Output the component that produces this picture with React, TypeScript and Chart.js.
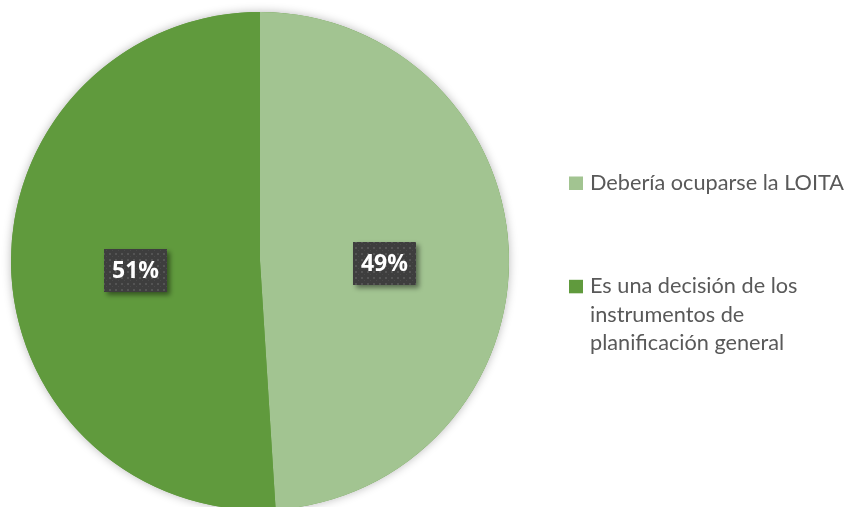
import { useEffect, useRef } from "react";
import { Chart, registerables } from "chart.js";

Chart.register(...registerables);

const categories: (string | string[])[] = [
  "Debería ocuparse la LOITA",
  ["Es una decisión de los", "instrumentos de", "planificación general"],
];
const values = [49, 51];
const sliceColors = ["#A2C491", "#609A3D"];

const W = 848;
const H = 507;
const CANVAS_H = 520;

function makePattern(ctx: CanvasRenderingContext2D): CanvasPattern | string {
  const c = document.createElement("canvas");
  c.width = 6;
  c.height = 6;
  const p = c.getContext("2d");
  if (!p) return "#404040";
  p.fillStyle = "#3E3E3E";
  p.fillRect(0, 0, 6, 6);
  p.fillStyle = "#545454";
  p.fillRect(1, 1, 2, 2);
  p.fillStyle = "#4A4A4A";
  p.fillRect(4, 4, 1, 1);
  return ctx.createPattern(c, "repeat") || "#404040";
}

const pieShadow = {
  id: "pieShadow",
  beforeDatasetsDraw(chart: any) {
    const meta = chart.getDatasetMeta(0);
    const arc = meta.data[0];
    if (!arc) return;
    const { x, y, outerRadius } = arc.getProps(["x", "y", "outerRadius"], true);
    const ctx = chart.ctx as CanvasRenderingContext2D;
    ctx.save();
    ctx.shadowColor = "rgba(0,0,0,0.28)";
    ctx.shadowBlur = 10;
    ctx.beginPath();
    ctx.arc(x, y, outerRadius, 0, Math.PI * 2);
    ctx.fillStyle = sliceColors[1];
    ctx.fill();
    ctx.restore();
  },
};

const boxLabels = {
  id: "boxLabels",
  afterDatasetsDraw(chart: any) {
    const ctx = chart.ctx as CanvasRenderingContext2D;
    const meta = chart.getDatasetMeta(0);
    const data = chart.data.datasets[0].data as number[];
    const total = data.reduce((a, b) => a + b, 0);
    const pattern = makePattern(ctx);
    meta.data.forEach((arc: any, i: number) => {
      const { x, y, startAngle, endAngle, outerRadius } = arc.getProps(
        ["x", "y", "startAngle", "endAngle", "outerRadius"],
        true
      );
      const mid = (startAngle + endAngle) / 2;
      const d = outerRadius * 0.5;
      const lx = x + Math.cos(mid) * d;
      const ly = y + Math.sin(mid) * d + 6;
      const text = Math.round((data[i] / total) * 100) + "%";
      const bw = 63;
      const bh = 43;
      ctx.save();
      ctx.shadowColor = "rgba(0,0,0,0.45)";
      ctx.shadowBlur = 5;
      ctx.shadowOffsetX = 3;
      ctx.shadowOffsetY = 3;
      ctx.fillStyle = pattern as any;
      ctx.fillRect(Math.round(lx - bw / 2), Math.round(ly - bh / 2), bw, bh);
      ctx.restore();
      ctx.save();
      ctx.fillStyle = "#FFFFFF";
      ctx.font = "bold 23px 'Open Sans'";
      ctx.textAlign = "center";
      ctx.textBaseline = "middle";
      ctx.fillText(text, lx, ly + 1);
      ctx.restore();
    });
  },
};

const sideLegend = {
  id: "sideLegend",
  afterDraw(chart: any) {
    const ctx = chart.ctx as CanvasRenderingContext2D;
    const labels = chart.data.labels as (string | string[])[];
    const colors = chart.data.datasets[0].backgroundColor as string[];
    const x0 = 569;
    const firstBaseline = 190;
    const itemGap = 103.3;
    const lineH = 28.3;
    ctx.save();
    ctx.font = "21.7px Lato";
    ctx.textAlign = "left";
    ctx.textBaseline = "alphabetic";
    labels.forEach((lab, i) => {
      const base = firstBaseline + i * itemGap;
      ctx.fillStyle = colors[i];
      ctx.fillRect(x0, base - 13.5, 14, 13.5);
      ctx.fillStyle = "#595959";
      const lines = Array.isArray(lab) ? lab : [lab];
      lines.forEach((ln, j) => {
        ctx.fillText(ln, x0 + 21, base + j * lineH);
      });
    });
    ctx.restore();
  },
};

export default function App() {
  const ref = useRef<HTMLCanvasElement | null>(null);

  useEffect(() => {
    if (!ref.current) return;
    const chart = new Chart(ref.current, {
      type: "pie",
      data: {
        labels: categories as any,
        datasets: [
          {
            data: values,
            backgroundColor: sliceColors,
            borderWidth: 0,
          },
        ],
      },
      options: {
        responsive: false,
        animation: false,
        devicePixelRatio: 1,
        layout: { padding: { left: 11, top: 12, right: W - 509, bottom: CANVAS_H - 510 } },
        plugins: {
          legend: { display: false },
          tooltip: { enabled: false },
        },
      },
      plugins: [pieShadow, boxLabels, sideLegend],
    });
    return () => chart.destroy();
  }, []);

  return (
    <div
      style={{
        position: "fixed",
        left: 0,
        top: 0,
        width: W,
        height: H,
        overflow: "hidden",
        background: "#FFFFFF",
      }}
    >
      <canvas ref={ref} width={W} height={CANVAS_H} style={{ display: "block" }} />
    </div>
  );
}
